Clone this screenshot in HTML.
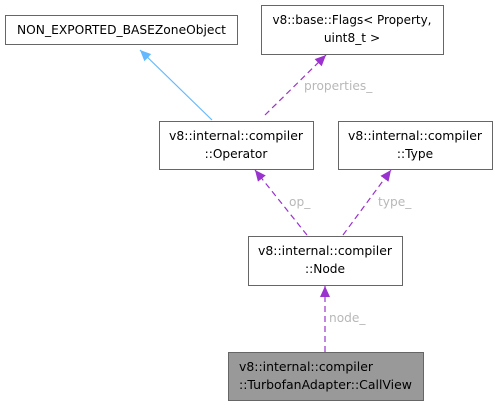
<!DOCTYPE html>
<html><head><meta charset="utf-8"><style>
html,body{margin:0;padding:0;background:#fff;}
svg text{font-family:"DejaVu Sans","Liberation Sans",sans-serif;font-size:12.2px;fill:#000;}
.l{fill:#b8b8b8;}
</style></head><body>
<svg width="497" height="406" viewBox="0 0 497 406" xmlns="http://www.w3.org/2000/svg">
<defs>
<marker id="p" markerWidth="12" markerHeight="12" refX="11" refY="6" orient="auto" markerUnits="userSpaceOnUse"><path d="M0,1 L11,6 L0,11 z" fill="#9a32cd"/></marker>
<marker id="b" markerWidth="12" markerHeight="12" refX="11" refY="6" orient="auto" markerUnits="userSpaceOnUse"><path d="M0,1 L11,6 L0,11 z" fill="#63b8ff"/></marker>
</defs>
<g fill="#fff" stroke="#666" stroke-width="1">
<rect x="5.5" y="15.5" width="232" height="29"/>
<rect x="261.5" y="5.5" width="182" height="49"/>
<rect x="159.5" y="121.5" width="154" height="48"/>
<rect x="338.5" y="121.5" width="154" height="48"/>
<rect x="248.5" y="236.5" width="154" height="49"/>
<rect x="228.5" y="352.5" width="195" height="48" fill="#999"/>
</g>
<line x1="212" y1="120" x2="140" y2="50" stroke="#63b8ff" stroke-width="1.2" marker-end="url(#b)"/>
<g stroke="#9a32cd" stroke-width="1.2" stroke-dasharray="6,4" fill="none">
<line x1="265" y1="115" x2="326" y2="55" marker-end="url(#p)"/>
<line x1="307" y1="235" x2="255" y2="170" marker-end="url(#p)"/>
<line x1="343" y1="235" x2="391" y2="170" marker-end="url(#p)"/>
<line x1="325" y1="352" x2="325" y2="286" marker-end="url(#p)"/>
</g>
<text x="17" y="34" textLength="209" lengthAdjust="spacingAndGlyphs">NON_EXPORTED_BASEZoneObject</text>
<text x="352" y="24" text-anchor="middle" textLength="159" lengthAdjust="spacingAndGlyphs">v8::base::Flags&lt; Property,</text>
<text x="352" y="42" text-anchor="middle">uint8_t &gt;</text>
<text x="236" y="140" text-anchor="middle" textLength="134" lengthAdjust="spacingAndGlyphs">v8::internal::compiler</text>
<text x="236" y="158" text-anchor="middle">::Operator</text>
<text x="415" y="140" text-anchor="middle" textLength="134" lengthAdjust="spacingAndGlyphs">v8::internal::compiler</text>
<text x="415" y="158" text-anchor="middle">::Type</text>
<text x="325" y="255" text-anchor="middle" textLength="134" lengthAdjust="spacingAndGlyphs">v8::internal::compiler</text>
<text x="325" y="273" text-anchor="middle">::Node</text>
<text x="239" y="371" textLength="134" lengthAdjust="spacingAndGlyphs">v8::internal::compiler</text>
<text x="239" y="389" textLength="173" lengthAdjust="spacingAndGlyphs">::TurbofanAdapter::CallView</text>
<text class="l" x="304" y="90">properties_</text>
<text class="l" x="289" y="206">op_</text>
<text class="l" x="378" y="206">type_</text>
<text class="l" x="329" y="322">node_</text>
</svg>
</body></html>
